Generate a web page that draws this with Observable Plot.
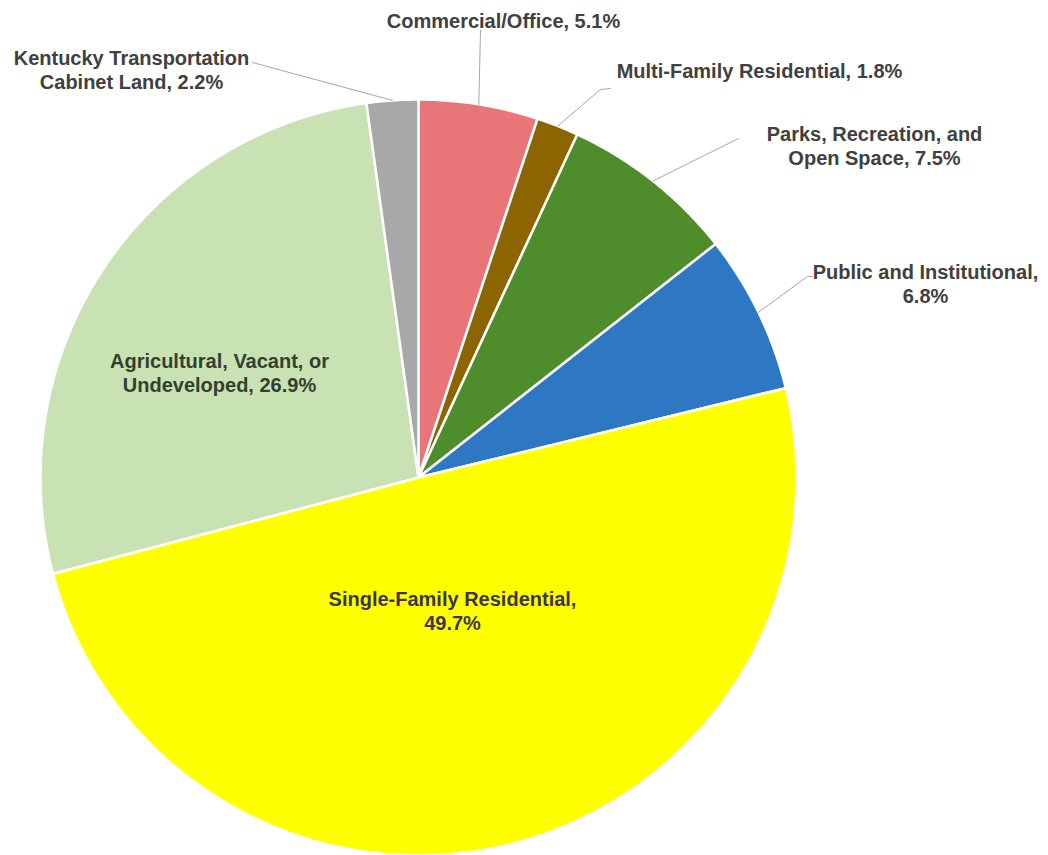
<!DOCTYPE html>
<html>
<head>
<meta charset="utf-8">
<script src="https://cdn.jsdelivr.net/npm/d3@7"></script>
<script src="https://cdn.jsdelivr.net/npm/@observablehq/plot@0.6"></script>
<style>
  html, body { margin: 0; padding: 0; background: #fff; }
  #chart svg { display: block; }
</style>
</head>
<body>
<div id="chart"></div>
<script>
// ---- data ----
const categories = [
  "Commercial/Office",
  "Multi-Family Residential",
  "Parks, Recreation, and\nOpen Space",
  "Public and Institutional",
  "Single-Family Residential",
  "Agricultural, Vacant, or\nUndeveloped",
  "Kentucky Transportation\nCabinet Land"
];
const values = [5.1, 1.8, 7.5, 6.8, 49.7, 26.9, 2.2];
const colors = ["#E87578", "#8D6500", "#4F8D2C", "#2E78C3", "#FFFF00", "#C8E2B4", "#A8A8AB"];

// ---- layout (pixels) ----
const W = 1048, H = 855;
const cx = 418, cy = 477, R = 378;
const labelSep = [", ", ", ", ", ", ",\n", ",\n", ", ", ", "];
const labelPos = [[503, 20], [759, 70], [874, 145], [925, 283], [452, 610], [219, 372], [131, 69]];
const labelColor = ["#404040", "#404040", "#404040", "#404040", "#3d3548", "#34402f", "#404040"];
const leaderPts = [[[480, 30]], [[600, 89], [610, 88]], [[738, 138]], [[807, 276], [812, 276]], null, null, [[252, 62]]];

// ---- geometry from values ----
const total = d3.sum(values);
let cum = 0;
const slices = values.map((v, i) => {
  const a0 = cum / total * 2 * Math.PI;
  cum += v;
  const a1 = cum / total * 2 * Math.PI;
  return {i, name: categories[i], value: v, a0, a1, mid: (a0 + a1) / 2};
});
const pt = (a, r) => [r * Math.sin(a), -r * Math.cos(a)];

const features = slices.map(s => {
  const n = Math.max(2, Math.ceil((s.a1 - s.a0) / (Math.PI / 360)));
  const ring = [[0, 0]];
  for (let k = 0; k <= n; k++) ring.push(pt(s.a0 + (s.a1 - s.a0) * k / n, R));
  ring.push([0, 0]);
  return {type: "Feature", properties: {i: s.i, color: colors[s.i]}, geometry: {type: "Polygon", coordinates: [ring]}};
});

const labels = slices.map(s => ({
  text: s.name + labelSep[s.i] + s.value.toFixed(1) + "%",
  x: labelPos[s.i][0] - cx,
  y: labelPos[s.i][1] - cy,
  color: labelColor[s.i]
}));

const leaders = [];
slices.forEach(s => {
  if (!leaderPts[s.i]) return;
  const e = pt(s.mid, R);
  leaders.push({k: s.i, x: e[0], y: e[1]});
  leaderPts[s.i].forEach(p => leaders.push({k: s.i, x: p[0] - cx, y: p[1] - cy}));
});

const projection = d3.geoIdentity().translate([cx, cy]);

const chart = Plot.plot({
  width: W,
  height: H,
  margin: 0,
  projection,
  style: {fontFamily: "'Liberation Sans', Arial, sans-serif", background: "#fff"},
  marks: [
    Plot.geo(features, {fill: d => d.properties.color, stroke: "#fff", strokeWidth: 2.5}),
    Plot.line(leaders, {x: "x", y: "y", z: "k", stroke: "#a6a6a6", strokeWidth: 1, curve: "linear"}),
    Plot.text(labels, {
      x: "x", y: "y", text: "text", fill: d => d.color,
      fontSize: 20, fontWeight: "bold", textAnchor: "middle", lineAnchor: "middle", lineHeight: 1.17
    })
  ]
});
document.getElementById("chart").append(chart);
</script>
</body>
</html>
